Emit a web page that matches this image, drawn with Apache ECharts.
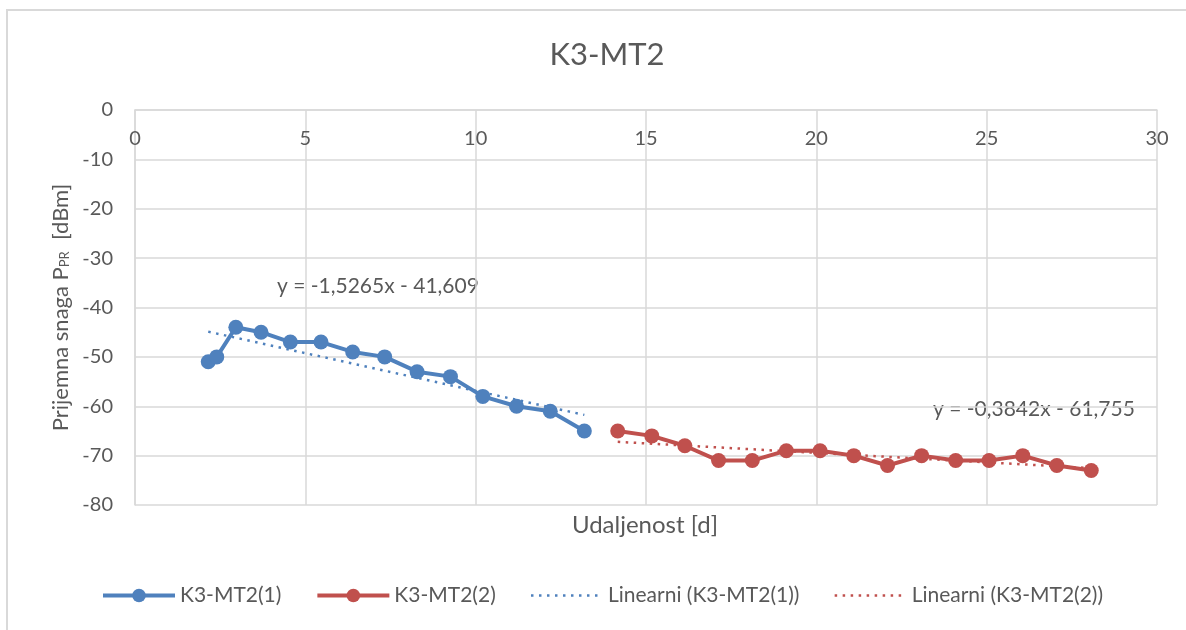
<!DOCTYPE html>
<html>
<head>
<meta charset="utf-8">
<script src="https://cdn.jsdelivr.net/npm/echarts@6/dist/echarts.min.js"></script>
<style>
html,body{margin:0;padding:0;background:#fff;}
#c{width:1186px;height:630px;}
</style>
</head>
<body>
<div id="c"></div>
<script>
var seriesNames = ['K3-MT2(1)', 'K3-MT2(2)', 'Linearni (K3-MT2(1))', 'Linearni (K3-MT2(2))'];
var xTicks = [0, 5, 10, 15, 20, 25, 30];
var yTicks = [0, -10, -20, -30, -40, -50, -60, -70, -80];
var s1x = [2.15, 2.4, 2.96, 3.7, 4.56, 5.46, 6.39, 7.33, 8.28, 9.26, 10.21, 11.2, 12.19, 13.19];
var s1y = [-51, -50, -44, -45, -47, -47, -49, -50, -53, -54, -58, -60, -61, -65];
var s2x = [14.17, 15.17, 16.14, 17.13, 18.12, 19.12, 20.11, 21.1, 22.09, 23.09, 24.09, 25.07, 26.06, 27.06, 28.07];
var s2y = [-65, -66, -68, -71, -71, -69, -69, -70, -72, -70, -71, -71, -70, -72, -73];
var trend1 = {slope: -1.5265, intercept: -41.609, label: 'y = -1,5265x - 41,609'};
var trend2 = {slope: -0.3842, intercept: -61.755, label: 'y = -0,3842x - 61,755'};

function pairs(xs, ys){ return xs.map(function(x,i){ return [x, ys[i]]; }); }
function trendLine(xs, t){
  var a = xs[0], b = xs[xs.length-1];
  return [[a, t.slope*a + t.intercept], [b, t.slope*b + t.intercept]];
}

var BLUE = '#4f81bd', RED = '#c0504d', TXT = '#595959', GRID = '#d9d9d9';
var FONT = 'Lato';
var DOT = [2.5, 5.5];
var chart = echarts.init(document.getElementById('c'));
chart.setOption({
  animation: false,
  backgroundColor: '#fff',
  textStyle: {fontFamily: FONT},
  title: {
    text: 'K3-MT2', left: 602, top: 34, textAlign: 'center',
    textStyle: {fontFamily: FONT, fontSize: 31, fontWeight: 'normal', color: TXT}
  },
  grid: {left: 135, right: 29, top: 110, bottom: 125, containLabel: false},
  legend: {
    bottom: 19, left: 96, itemWidth: 72, itemHeight: 17, itemGap: 34,
    data: [
      {name: seriesNames[0], lineStyle: {width: 4}},
      {name: seriesNames[1], lineStyle: {width: 4}},
      {name: seriesNames[2], itemStyle: {opacity: 0}, lineStyle: {width: 2.5, type: DOT}},
      {name: seriesNames[3], itemStyle: {opacity: 0}, lineStyle: {width: 2.5, type: DOT}}
    ],
    textStyle: {fontFamily: FONT, fontSize: 21, color: TXT}
  },
  xAxis: {
    type: 'value', position: 'top', min: 0, max: 30, interval: 5,
    axisLine: {show: true, lineStyle: {color: GRID, width: 1.5}},
    axisTick: {show: false},
    splitLine: {show: true, lineStyle: {color: GRID, width: 1.5}},
    axisLabel: {inside: true, margin: 19, fontSize: 20, color: TXT, fontFamily: FONT,
      formatter: function(v){ return xTicks.indexOf(v) >= 0 ? String(v) : ''; }}
  },
  yAxis: {
    type: 'value', min: -80, max: 0, interval: 10,
    axisLine: {show: true, lineStyle: {color: GRID, width: 1.5}},
    axisTick: {show: false},
    splitLine: {show: true, lineStyle: {color: GRID, width: 1.5}},
    axisLabel: {margin: 22, fontSize: 20, color: TXT, fontFamily: FONT,
      formatter: function(v){ return yTicks.indexOf(v) >= 0 ? String(v) : ''; }},
    name: '{a|Prijemna snaga P}{s|PR}{a|  [dBm]}',
    nameLocation: 'middle', nameGap: 63, nameRotate: 90,
    nameTextStyle: {
      rich: {
        a: {fontFamily: FONT, fontSize: 22, color: TXT, verticalAlign: 'bottom', lineHeight: 26},
        s: {fontFamily: FONT, fontSize: 13, color: TXT, verticalAlign: 'bottom', lineHeight: 22}
      }
    }
  },
  graphic: [
    {type: 'rect', left: 6, top: 9, shape: {width: 1186, height: 2}, style: {fill: GRID}, silent: true},
    {type: 'rect', left: 6, top: 9, shape: {width: 2, height: 630}, style: {fill: GRID}, silent: true},
    {type: 'text', x: 645, y: 513, style: {text: 'Udaljenost [d]', font: '24px ' + FONT, fill: TXT, textAlign: 'center'}},
    {type: 'text', x: 277, y: 276, style: {text: trend1.label, font: '21px ' + FONT, fill: TXT}},
    {type: 'text', x: 933, y: 399, style: {text: trend2.label, font: '21px ' + FONT, fill: TXT}}
  ],
  series: [
    {name: seriesNames[0], type: 'line', data: pairs(s1x, s1y), z: 3,
      symbol: 'circle', symbolSize: 15, itemStyle: {color: BLUE},
      lineStyle: {color: BLUE, width: 4}},
    {name: seriesNames[1], type: 'line', data: pairs(s2x, s2y), z: 3,
      symbol: 'circle', symbolSize: 15, itemStyle: {color: RED},
      lineStyle: {color: RED, width: 4}},
    {name: seriesNames[2], type: 'line', data: trendLine(s1x, trend1), z: 2,
      showSymbol: false, symbol: 'none', itemStyle: {color: BLUE},
      lineStyle: {color: BLUE, width: 2.5, type: DOT}},
    {name: seriesNames[3], type: 'line', data: trendLine(s2x, trend2), z: 2,
      showSymbol: false, symbol: 'none', itemStyle: {color: RED},
      lineStyle: {color: RED, width: 2.5, type: DOT}}
  ]
});
</script>
</body>
</html>
